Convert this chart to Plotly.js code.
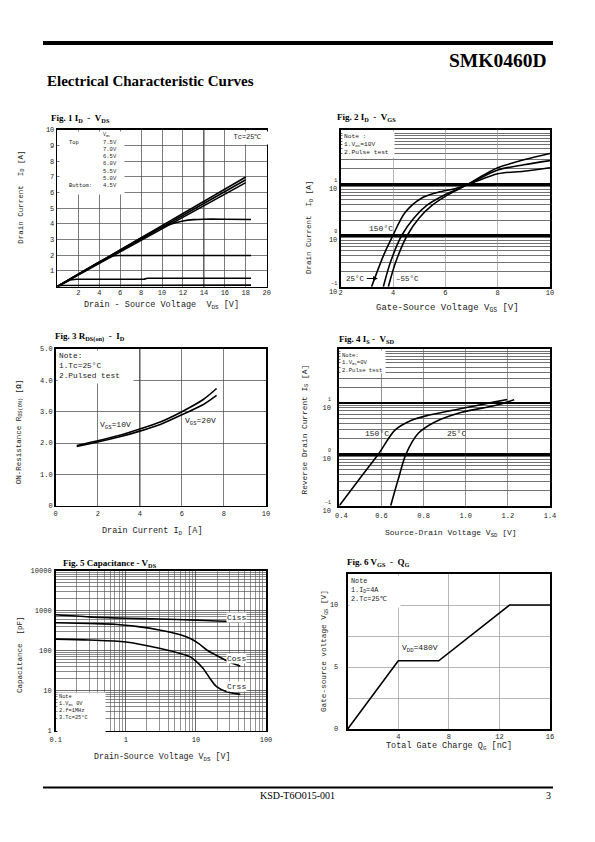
<!DOCTYPE html>
<html><head><meta charset="utf-8">
<script src="https://cdn.plot.ly/plotly-3.0.1.min.js"></script>
<style>html,body{margin:0;padding:0;background:#fff}#p{width:595px;height:842px}</style>
</head><body><div id="p"></div><script>
// ---------- Fig 1 : ID - VDS ----------
const f1_xticks = [2,4,6,8,10,12,14,16,18,20];
const f1_yticks = [1,2,3,4,5,6,7,8,9,10];
const f1_vgs_labels = ["7.5V","7.0V","6.5V","6.0V","5.5V","5.0V","4.5V"];
const f1_vds_fan = [0, 18];
const f1_id_75 = [0, 7.0];
const f1_id_70 = [0, 6.82];
const f1_id_65 = [0, 6.64];
const f1_vds_60 = [0, 4, 8, 9.5, 10.8, 12, 13, 14, 16, 18.5];
const f1_id_60  = [0, 1.55, 3.1, 3.65, 3.98, 4.18, 4.27, 4.3, 4.3, 4.28];
const f1_vds_55 = [0, 4.5, 5.3, 6.0, 8, 12, 18.5];
const f1_id_55  = [0, 1.75, 1.95, 1.98, 1.98, 1.98, 1.98];
const f1_vds_50 = [0, 1.2, 1.8, 3, 8.3, 8.6, 18.5];
const f1_id_50  = [0, 0.42, 0.46, 0.46, 0.47, 0.53, 0.53];
const f1_vds_45 = [0, 0.5, 18.5];
const f1_id_45  = [0, 0.06, 0.09];

// ---------- Fig 2 : ID - VGS ----------
const f2_xticks = [2,4,6,8,10];
const f2_vgs_150 = [3.18, 3.63, 3.95, 4.46, 5.1, 5.73, 6.4, 7.0, 8.0, 9.0, 10];
const f2_id_150  = [0.1, 0.4, 0.9, 2.8, 5.4, 7.0, 8.3, 10.5, 16, 18, 21];
const f2_vgs_25  = [3.63, 3.9, 4.33, 4.8, 5.3, 6.0, 6.5, 7.0, 8.0, 9.0, 10];
const f2_id_25   = [0.1, 0.3, 1.0, 2.2, 3.9, 6.3, 8.2, 10.8, 19, 24, 29];
const f2_vgs_m55 = [3.82, 4.1, 4.54, 5.0, 5.5, 6.0, 6.5, 7.0, 7.5, 8.0, 9.0, 10];
const f2_id_m55  = [0.1, 0.3, 1.0, 2.2, 3.9, 5.8, 8.0, 11, 15.5, 21, 30, 40];

// ---------- Fig 3 : RDS(on) - ID ----------
const f3_xticks = [0,2,4,6,8,10];
const f3_yticks = [0,1,2,3,4,5];
const f3_yticktext = ["0","1.0","2.0","3.0","4.0","5.0"];
const f3_id = [1, 2, 3, 4, 5, 6, 7, 7.65];
const f3_r_10v = [1.92, 2.07, 2.24, 2.45, 2.68, 3.0, 3.38, 3.74];
const f3_r_20v = [1.89, 2.03, 2.19, 2.38, 2.6, 2.9, 3.22, 3.52];

// ---------- Fig 4 : IS - VSD ----------
const f4_xticks = [0.4,0.6,0.8,1.0,1.2,1.4];
const f4_xticktext = ["\u00a00.4","0.6","0.8","1.0","1.2","1.4"];
const f4_vsd_150 = [0.4, 0.5, 0.585, 0.664, 0.743, 0.822, 0.98, 1.139, 1.197];
const f4_is_150  = [0.1, 0.35, 1.0, 2.95, 4.6, 5.75, 7.8, 10.5, 11.7];
const f4_vsd_25  = [0.644, 0.68, 0.716, 0.775, 0.854, 0.981, 1.139, 1.23];
const f4_is_25   = [0.1, 0.33, 1.0, 2.57, 4.27, 6.6, 8.9, 11.5];

// ---------- Fig 5 : Capacitance - VDS ----------
const f5_xticks = [0.1, 1, 10, 100];
const f5_xticktext = ["0.1","1","10","100"];
const f5_yticks = [1, 10, 100, 1000, 10000];
const f5_yticktext = ["1","10","100","1000","10000"];
const f5_vds_ciss = [0.1, 0.3, 1, 3, 10, 20, 43];
const f5_ciss     = [790, 700, 650, 620, 580, 555, 530];
const f5_vds_coss = [0.1, 0.3, 0.7, 1.5, 3, 6, 8.2, 11, 14.3, 20, 30, 43];
const f5_coss     = [500, 480, 460, 400, 330, 250, 204, 150, 104, 75, 52, 41];
const f5_vds_crss = [0.1, 0.3, 1, 3, 6, 8.2, 10, 12.7, 15.8, 19.7, 27.5, 43];
const f5_crss     = [195, 185, 165, 115, 85, 71, 55, 36, 20.5, 12.6, 9.4, 8.1];

// ---------- Fig 6 : VGS - QG ----------
const f6_xticks = [4, 8, 12, 16];
const f6_yticks = [0, 5, 10];
const f6_qg  = [0, 4, 7.2, 12.8, 16];
const f6_vgs = [0, 5.5, 5.5, 10, 10];

// ---------- helpers (layout only) ----------
const W = 595, H = 842;
const dx = p => p / W;
const dy = p => 1 - p / H;
const mono = 'Liberation Mono, DejaVu Sans Mono, monospace';
const serif = 'Liberation Serif, Times New Roman, serif';
const TXT = '#222';

function logGrid(lo, hi) { // minor gridline positions 2..9 x 10^k
  const v = [];
  for (let k = lo; k < hi; k++) for (let m = 2; m <= 9; m++) v.push(+(m * Math.pow(10, k)).toPrecision(3));
  return v;
}
function ax(domain, range, extra) {
  return Object.assign({
    domain, range, showline: true, linecolor: '#000', linewidth: 1.7, mirror: true,
    zeroline: false, ticks: '', showgrid: true, gridcolor: '#444', gridwidth: 0.7,
    tickfont: {family: mono, size: 7, color: TXT}, fixedrange: true, tickmode: 'array'
  }, extra);
}
function xax(domain, range, extra) {
  return ax(domain, range, Object.assign({ticklabelstandoff: -2}, extra));
}
function line(x, y, xa, ya, shape) {
  return {x, y, xaxis: xa, yaxis: ya, type: 'scatter', mode: 'lines',
          line: {color: '#000', width: 1.6, shape: shape || 'spline', smoothing: 0.8},
          hoverinfo: 'skip', showlegend: false};
}
const decadeText = e => "<span style='font-size:5px'>" + e + "</span><br>10";

const traces = [
  line(f1_vds_fan, f1_id_75, 'x', 'y', 'linear'),
  line(f1_vds_fan, f1_id_70, 'x', 'y', 'linear'),
  line(f1_vds_fan, f1_id_65, 'x', 'y', 'linear'),
  line(f1_vds_60, f1_id_60, 'x', 'y'),
  line(f1_vds_55, f1_id_55, 'x', 'y'),
  line(f1_vds_50, f1_id_50, 'x', 'y', 'linear'),
  line(f1_vds_45, f1_id_45, 'x', 'y', 'linear'),
  line(f2_vgs_150, f2_id_150, 'x2', 'y2'),
  line(f2_vgs_25, f2_id_25, 'x2', 'y2'),
  line(f2_vgs_m55, f2_id_m55, 'x2', 'y2'),
  line(f3_id, f3_r_10v, 'x3', 'y3'),
  line(f3_id, f3_r_20v, 'x3', 'y3'),
  line(f4_vsd_150, f4_is_150, 'x4', 'y4'),
  line(f4_vsd_25, f4_is_25, 'x4', 'y4'),
  line(f5_vds_ciss, f5_ciss, 'x5', 'y5'),
  line(f5_vds_coss, f5_coss, 'x5', 'y5'),
  line(f5_vds_crss, f5_crss, 'x5', 'y5'),
  line(f6_qg, f6_vgs, 'x6', 'y6', 'linear')
];

const logMinor23 = logGrid(-1, 2).concat([100]);

const layout = {
  width: W, height: H, margin: {l: 0, r: 0, t: 0, b: 0},
  paper_bgcolor: '#fff', plot_bgcolor: '#fff', showlegend: false, hovermode: false,
  xaxis: xax([dx(57.4), dx(266.7)], [0, 20], {anchor: 'y', tickvals: f1_xticks, ticktext: f1_xticks.map(String),
    minor: {tickmode: 'array', tickvals: [14], showgrid: true, gridcolor: '#aaa', gridwidth: 2.2}}),
  yaxis: ax([dy(286.5), dy(130)], [0, 10], {anchor: 'x', tickvals: f1_yticks, ticktext: f1_yticks.map(String)}),
  xaxis2: xax([dx(340.7), dx(550)], [2, 10], {anchor: 'y2', tickvals: f2_xticks, ticktext: f2_xticks.map(String), gridcolor: '#999', linewidth: 2}),
  yaxis2: ax([dy(286.7), dy(130)], [-1, 2.06], {anchor: 'x2', type: 'log', tickvals: [0.1, 1, 10],
    ticktext: [decadeText('−1'), decadeText('0'), decadeText('1')], gridcolor: '#000', gridwidth: 2.6, linewidth: 2,
    minor: {tickmode: 'array', tickvals: logMinor23, showgrid: true, gridcolor: '#333', gridwidth: 0.7}}),
  xaxis3: xax([dx(55.7), dx(266)], [0, 10], {anchor: 'y3', tickvals: f3_xticks, ticktext: f3_xticks.map(String), ticklabelstandoff: 0,
    minor: {tickmode: 'array', tickvals: [4], showgrid: true, gridcolor: '#aaa', gridwidth: 2.2}}),
  yaxis3: ax([dy(505.7), dy(349)], [0, 5], {anchor: 'x3', tickvals: f3_yticks, ticktext: f3_yticktext}),
  xaxis4: xax([dx(339.3), dx(550)], [0.4, 1.4], {anchor: 'y4', tickvals: f4_xticks, ticktext: f4_xticktext, gridcolor: '#666', linewidth: 2, ticklabelstandoff: 2}),
  yaxis4: ax([dy(505.7), dy(349)], [-1, 2.05], {anchor: 'x4', type: 'log', tickvals: [0.1, 1, 10], ticklabelstandoff: 5,
    ticktext: [decadeText('−1'), decadeText('0'), decadeText('1')], gridcolor: '#000', gridwidth: 2.6, linewidth: 2,
    minor: {tickmode: 'array', tickvals: logMinor23, showgrid: true, gridcolor: '#333', gridwidth: 0.7}}),
  xaxis5: xax([dx(55.7), dx(266)], [-1, 2], {anchor: 'y5', type: 'log', tickvals: f5_xticks, ticktext: f5_xticktext, gridcolor: '#333', ticklabelstandoff: 1,
    minor: {tickmode: 'array', tickvals: logGrid(-1, 2), showgrid: true, gridcolor: '#666', gridwidth: 0.7}}),
  yaxis5: ax([dy(730.7), dy(570.7)], [0, 4], {anchor: 'x5', type: 'log', tickvals: f5_yticks, ticktext: f5_yticktext, gridcolor: '#333', ticklabelstandoff: 1,
    minor: {tickmode: 'array', tickvals: logGrid(0, 4), showgrid: true, gridcolor: '#555', gridwidth: 0.7}}),
  xaxis6: xax([dx(347.7), dx(550)], [0, 16], {anchor: 'y6', tickvals: f6_xticks, ticktext: f6_xticks.map(String), gridcolor: '#999', linewidth: 2, ticklabelstandoff: 0}),
  yaxis6: ax([dy(729), dy(574)], [0, 12.5], {anchor: 'x6', tickvals: f6_yticks, ticktext: f6_yticks.map(String), gridcolor: '#999', linewidth: 2,
    ticklabelstandoff: 6,
    minor: {tickmode: 'array', tickvals: [2.5, 7.5], showgrid: true, gridcolor: '#999', gridwidth: 0.7}}),
  shapes: [
    {type: 'rect', xref: 'paper', yref: 'paper', x0: dx(43), x1: dx(553), y0: dy(45), y1: dy(41), fillcolor: '#000', line: {width: 0}},
    {type: 'rect', xref: 'paper', yref: 'paper', x0: dx(43), x1: dx(553), y0: dy(788.5), y1: dy(786.5), fillcolor: '#000', line: {width: 0}}
  ],
  annotations: []
};

const A = layout.annotations;
function pt(text, x, y, o) { // paper-positioned text
  A.push(Object.assign({text, xref: 'paper', yref: 'paper', x: dx(x), y: dy(y), showarrow: false,
    font: {family: mono, size: 8, color: TXT}, xanchor: 'center', yanchor: 'middle'}, o || {}));
}
function box(x, y, w, h, text, size, o) {
  A.push(Object.assign({text, xref: 'paper', yref: 'paper', x: dx(x), y: dy(y), showarrow: false,
    xanchor: 'left', yanchor: 'top', width: w, height: h, align: 'left', valign: 'top', bgcolor: '#fff', borderpad: 1,
    font: {family: mono, size: size, color: TXT}}, o || {}));
}
function dt(text, xr, yr, x, y, o) { // data-positioned label
  A.push(Object.assign({text, xref: xr, yref: yr, x, y, showarrow: false,
    font: {family: mono, size: 8, color: TXT}}, o || {}));
}

// header / footer
pt('<b>SMK0460D</b>', 549, 60, {xanchor: 'right', font: {family: serif, size: 19.5, color: '#000'}});
pt('<b>Electrical Characteristic Curves</b>', 45, 81, {xanchor: 'left', font: {family: serif, size: 15, color: '#000'}});
pt('KSD-T6O015-001', 297, 795, {font: {family: serif, size: 10, color: '#000'}});
pt('3', 553, 795, {xanchor: 'right', font: {family: serif, size: 10, color: '#000'}});

// figure titles
const ft = {xanchor: 'left', font: {family: serif, size: 9, color: '#000'}};
pt('<b>Fig. 1 I<sub>D</sub>\u00a0\u00a0-\u00a0\u00a0V<sub>DS</sub></b>', 49, 118.3, ft);
pt('<b>Fig. 2 I<sub>D</sub>\u00a0\u00a0-\u00a0\u00a0V<sub>GS</sub></b>', 335, 117.7, ft);
pt('<b>Fig. 3 R<sub>DS(on)</sub>\u00a0\u00a0-\u00a0\u00a0I<sub>D</sub></b>', 53.3, 336.5, ft);
pt('<b>Fig. 4 I<sub>S</sub>\u00a0-\u00a0\u00a0V<sub>SD</sub></b>', 337.3, 339.3, ft);
pt('<b>Fig. 5 Capacitance - V<sub>DS</sub></b>', 61, 563.3, ft);
pt('<b>Fig. 6 V<sub>GS</sub>\u00a0\u00a0-\u00a0\u00a0Q<sub>G</sub></b>', 345, 562.3, ft);

// axis titles
pt('Drain - Source Voltage\u00a0\u00a0V<sub>DS</sub> [V]', 161, 305, {font: {family: mono, size: 8.5, color: TXT}});
pt('Drain Current\u00a0\u00a0I<sub>D</sub> [A]', 21.7, 197, {textangle: -90, font: {family: mono, size: 7.5, color: TXT}});
pt('Gate-Source Voltage V<sub>GS</sub> [V]', 447.5, 308, {font: {family: mono, size: 9, color: TXT}});
pt('Drain Current\u00a0\u00a0I<sub>D</sub> [A]', 310, 228, {textangle: -90, font: {family: mono, size: 7.5, color: TXT}});
pt('Drain Current I<sub>D</sub> [A]', 153, 531, {font: {family: mono, size: 8.5, color: TXT}});
pt('ON-Resistance R<sub>DS(ON)</sub> [<b>Ω</b>]', 20, 432.3, {textangle: -90, font: {family: mono, size: 7.5, color: TXT}});
pt('Source-Drain Voltage V<sub>SD</sub> [V]', 451, 533, {font: {family: mono, size: 8, color: TXT}});
pt('Reverse Drain Current I<sub>S</sub> [A]', 305.5, 430, {textangle: -90, font: {family: mono, size: 7.8, color: TXT}});
pt('Drain-Source Voltage V<sub>DS</sub> [V]', 162, 757.5, {font: {family: mono, size: 8.3, color: TXT}});
pt('Capacitance\u00a0\u00a0[pF]', 20, 655, {textangle: -90, font: {family: mono, size: 7.5, color: TXT}});
pt('Total Gate Charge Q<sub>G</sub> [nC]', 448.7, 746.7, {font: {family: mono, size: 8.5, color: TXT}});
pt('Gate-source voltage V<sub>GS</sub> [V]', 325, 651, {textangle: -90, font: {family: mono, size: 7.7, color: TXT}});

// Fig 1 legend box and condition
box(58.6, 131.2, 62, 60, ' ', 5.5);
pt('V<sub>GS</sub>', 101, 134.5, {xanchor: 'left', font: {family: mono, size: 5, color: TXT}});
pt('Top<br><br><br><br><br><br>Buttom:', 67, 164, {xanchor: 'left', align: 'left', font: {family: mono, size: 5.5, color: TXT}});
pt(f1_vgs_labels.join('<br>'), 100.7, 164, {xanchor: 'left', align: 'left', font: {family: mono, size: 5.5, color: TXT}});
box(226, 131.2, 39, 10, 'Tc=25℃', 7, {align: 'center'});

// Fig 2 notes & labels
box(341.8, 131.2, 49, 23, 'Note :<br>1.V<sub>DS</sub>=10V<br>2.Pulse test', 6.2);
dt('150°C', 'x2', 'y2', 3.55, 0.13, {font: {family: mono, size: 8, color: TXT}});
dt('25°C', 'x2', 'y2', 3.42, -0.84, {ax: -22, ay: 0, showarrow: true, arrowhead: 2, arrowsize: 0.8, arrowwidth: 1.2, arrowcolor: '#000', font: {family: mono, size: 7.5, color: TXT}});
dt('‒55°C', 'x2', 'y2', 4.55, -0.84, {font: {family: mono, size: 7.5, color: TXT}});

// Fig 3
box(56.8, 350.1, 73, 30, 'Note:<br>1.Tc=25°C<br>2.Pulsed test', 7.8);
dt('V<sub>GS</sub>=10V', 'x3', 'y3', 2.85, 2.56);
dt('V<sub>GS</sub>=20V', 'x3', 'y3', 6.9, 2.7);

// Fig 4
box(340.4, 350.1, 42, 20, 'Note:<br>1.V<sub>GS</sub>=0V<br>2.Pulse test', 5.6);
dt('150°C', 'x4', 'y4', 0.579, 0.41);
dt('25°C', 'x4', 'y4', 0.954, 0.41);

// Fig 5
box(56.8, 692, 44.5, 37.5, 'Note<br>1.V<sub>GS</sub> 0V<br>2.f=1MHz<br>3.Tc=25°C', 5.3);
dt('Ciss', 'x5', 'y5', 1.575, 2.84, {bgcolor: '#fff', borderpad: 0});
dt('Coss', 'x5', 'y5', 1.575, 1.8, {bgcolor: '#fff', borderpad: 0});
dt('Crss', 'x5', 'y5', 1.575, 1.1, {bgcolor: '#fff', borderpad: 0});

// Fig 6
box(348.8, 575.1, 48, 29, 'Note<br>1.I<sub>D</sub>=4A<br>2.Tc=25℃', 6.8);
dt('V<sub>DD</sub>=480V', 'x6', 'y6', 5.71, 6.5);

Plotly.newPlot('p', traces, layout, {staticPlot: true, displayModeBar: false});
</script></body></html>
